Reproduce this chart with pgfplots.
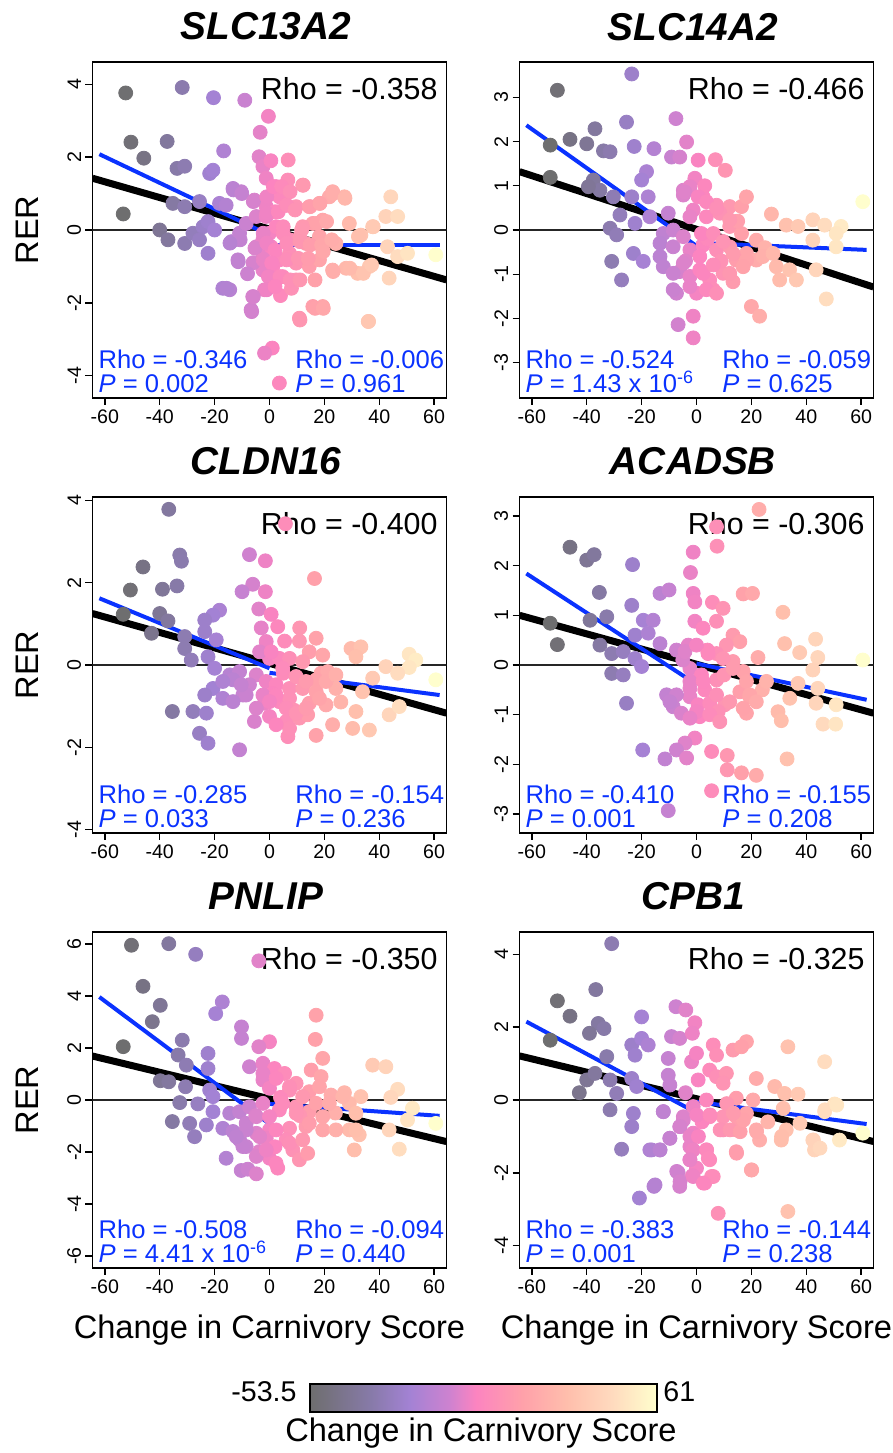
\documentclass[border=0pt]{standalone}
\usepackage{fontspec}
\setmainfont{Liberation Sans}
\usepackage{pgfplots}
\pgfplotsset{compat=1.18}

\definecolor{rblue}{RGB}{10,50,255}

\pgfplotsset{
  colormap={carn}{rgb255(0)=(110,110,110) rgb255(20)=(135,122,168) rgb255(33)=(163,130,212)
    rgb255(46)=(205,130,208) rgb255(55)=(252,132,192) rgb255(70)=(255,160,170)
    rgb255(85)=(255,190,172) rgb255(100)=(255,218,190) rgb255(115)=(255,255,205)},
  panel/.style={
    scale only axis, width=177pt, height=168pt,
    xmin=-64.5, xmax=64.5, xtick={-60,-40,-20,0,20,40,60},
    tick align=outside, xtick pos=bottom, ytick pos=left,
    major tick length=3.5pt,
    axis line style={line width=0.7pt},
    every tick/.append style={black, line width=0.7pt},
    tick label style={font=\fontsize{9.8}{11}\selectfont},
    yticklabel style={rotate=90, anchor=south, inner sep=2pt},
    xticklabel style={inner sep=2pt},
    /pgf/number format/assume math mode=true,
    colormap name=carn, point meta min=-53.5, point meta max=61,
    title style={at={(axis description cs:0.49,1)}, anchor=base, yshift=5pt,
      font=\fontsize{19.4}{22}\selectfont\bfseries\itshape},
    ylabel style={at={(axis description cs:-0.183,0.5)}, anchor=center,
      font=\fontsize{16.3}{18}\selectfont},
    xlabel style={at={(axis description cs:0.5,-0.185)}, anchor=center,
      font=\fontsize{16.3}{18}\selectfont},
  },
  pts/.style={scatter, only marks, mark=*, mark size=3.5pt, point meta=x,
    scatter/use mapped color={draw=mapped color, fill=mapped color}},
  fitall/.style={black, line width=3.5pt},
  fitpart/.style={rblue, line width=2pt},
  hzero/.style={black!85, line width=0.6pt},
}

\newcommand{\rhoall}[1]{%
  \node[anchor=north east, inner sep=0pt, font=\fontsize{15.2}{18}\selectfont]
    at (rel axis cs:0.976,0.955) {Rho = #1};}
\newcommand{\rhoparts}[4]{%
  \node[anchor=base west, inner sep=0pt, text=rblue, font=\fontsize{12.8}{15}\selectfont]
    at (rel axis cs:0.016,0.087) {Rho = #1};
  \node[anchor=base west, inner sep=0pt, text=rblue, font=\fontsize{12.8}{15}\selectfont]
    at (rel axis cs:0.016,0.017) {\textit{P} = #2};
  \node[anchor=base west, inner sep=0pt, text=rblue, font=\fontsize{12.8}{15}\selectfont]
    at (rel axis cs:0.572,0.087) {Rho = #3};
  \node[anchor=base west, inner sep=0pt, text=rblue, font=\fontsize{12.8}{15}\selectfont]
    at (rel axis cs:0.572,0.017) {\textit{P} = #4};}

\begin{document}
\begin{tikzpicture}
\path[use as bounding box] (0,0) rectangle (446.5pt,726.5pt);

% ---- SLC13A2
\begin{axis}[panel, at={(46.25pt,527.5pt)}, anchor=south west,
  ymin=-4.61, ymax=4.61, ytick={-4,-2,0,2,4}, title={SLC13A2}, ylabel={RER}]
\addplot[pts] coordinates {
(-52.4,3.76) (-31.8,3.91) (-20.4,3.63) (-9.0,3.56) (-0.4,3.12) (-3.4,2.68) (-50.5,2.41)
(-37.3,2.43) (-45.8,1.97) (-16.7,2.17) (-3.8,2.01) (6.8,1.92) (-33.7,1.69) (-30.9,1.75)
(-21.8,1.55) (-20.6,1.64) (-2.4,1.74) (-1.2,1.42) (6.7,1.37) (2.4,1.19) (12.1,1.23)
(23.0,1.05) (27.3,0.91) (-13.3,1.14) (-10.3,1.05) (-53.3,0.44) (-35.2,0.73) (-30.9,0.64)
(-25.5,0.78) (-18.2,0.73) (-15.8,0.68) (-5.5,0.82) (-1.2,0.64) (3.6,0.91) (6.1,0.68)
(9.7,0.64) (14.5,0.64) (18.2,0.73) (21.8,0.91) (44.2,0.91) (42.4,0.37) (46.7,0.37)
(37.6,0.09) (33.3,-0.14) (29.1,0.18) (19.4,0.27) (15.8,0.18) (12.1,0.09) (-40.0,0.0)
(-37.0,-0.27) (-30.9,-0.37) (-27.9,-0.09) (-24.2,0.09) (-22.4,0.23) (-20.0,0.0)
(-25.5,-0.27) (-22.4,-0.64) (-13.9,-0.32) (-10.9,-0.09) (-8.5,0.18) (-4.8,-0.46)
(-11.5,-0.82) (-2.4,-0.73) (0.6,-0.46) (3.6,-0.82) (1.2,-1.0) (7.3,-0.64) (9.7,-0.91)
(4.8,-1.28) (9.7,-1.37) (14.5,-1.0) (18.2,-0.82) (23.0,-1.10) (27.9,-1.05) (32.1,-1.19)
(36.4,-1.0) (43.0,-0.46) (46.7,-0.73) (50.3,-0.64) (60.6,-0.68) (43.6,-1.32)
(-17.0,-1.60) (-14.5,-1.64) (-6.1,-1.83) (-1.8,-1.64) (0,-1.28) (-2.4,-1.10)
(-6.7,-2.19) (15.8,-2.10) (19.4,-2.10) (10.9,-2.42) (36.1,-2.51) (1.0,-3.24)
(-1.8,-3.38) (3.6,-4.20) (0,-0.09) (-4.8,0.37) (-1.2,0.37) (2.4,0.09) (-2.4,-0.27)
(7.3,-0.27) (13.3,-0.37) (18.2,-0.18) (24.2,-0.37) (19.4,-0.55) (2.0,0.5) (5.0,-0.1)
(-6.0,-0.9) (4.0,-1.8) (8.0,-1.6) (11.0,-0.2) (-8.0,-1.2) (0.5,1.9)
(-13.2,1.10) (-10.1,1.00) (-5.9,0.78) (-1.0,0.91) (1.4,1.19) (4.4,1.19) (7.5,1.05)
(12.3,1.23) (-1.0,0.46) (3.2,0.50) (6.3,0.68) (9.3,0.55) (14.8,0.64) (18.4,0.73)
(23.2,1.00) (27.5,0.87) (17.2,0.18) (20.8,0.23) (11.7,0) (5.0,0.09) (-2.3,-0.09)
(-5.3,-0.50) (-1.0,-0.36) (2.0,-0.55) (6.3,-0.36) (11.1,-0.32) (14.8,-0.41) (19.0,-0.41)
(22.7,-0.27) (32.4,-0.18) (37.8,0.09) (-10.7,-0.27) (-14.4,-0.36) (-11.4,-0.87)
(-2.3,-0.82) (0.8,-0.91) (6.3,-0.82) (10.5,-0.78) (14.1,-0.78) (19.6,-0.59) (29.3,-1.05)
(34.2,-1.19) (37.2,-0.96) (-0.4,-1.28) (3.8,-1.28) (7.5,-1.37) (11.1,-1.37) (16.6,-1.37)
(23.2,-1.14) (-15.6,-1.60) (-5.9,-1.83) (-1.0,-1.64) (2.0,-1.55) (-6.5,-2.24)
(11.1,-2.47) (16.6,-2.15) (19.6,-2.15) (36.0,-2.51)
};
\addplot[hzero] coordinates {(-70,0) (70,0)};
\addplot[fitall] coordinates {(-64.5,1.42) (64.5,-1.37)};
\addplot[fitpart] coordinates {(-62,2.08) (0,-0.14)};
\addplot[fitpart] coordinates {(0,-0.41) (62,-0.41)};
\rhoall{-0.358}
\rhoparts{-0.346}{0.002}{-0.006}{0.961}
\end{axis}

% ---- SLC14A2
\begin{axis}[panel, at={(259.75pt,527.5pt)}, anchor=south west,
  ymin=-3.8, ymax=3.8, ytick={-3,-2,-1,0,1,2,3}, title={SLC14A2}]
\addplot[pts] coordinates {
(-50.7,3.16) (-23.6,3.53) (-25.5,2.44) (-7.5,2.52) (-46.1,2.05) (-37.0,2.29) (-40.0,1.95)
(-53.3,1.92) (-33.9,1.79) (-31.5,1.77) (-22.7,1.89) (-15.5,1.84) (-3.6,1.99) (-9.1,1.65)
(-6.1,1.65) (0.6,1.58) (6.9,1.59) (10.5,1.35) (-18.2,1.32) (-20.0,1.13) (-53.3,1.19)
(-37.6,1.13) (-35.2,0.90) (-39.4,0.98) (-30.3,0.75) (-23.6,0.75) (-17.6,0.75) (-4.8,0.90)
(-0.6,1.17) (-2.4,0.98) (-4.8,0.79) (2.4,0.75) (7.3,0.56) (12.1,0.53) (16.4,0.53)
(18.2,0.75) (27.3,0.36) (32.7,0.11) (37.0,0.08) (42.4,0.23) (46.7,0.11) (52.7,0.08)
(50.9,-0.08) (60.6,0.64) (-27.9,0.34) (-22.4,0.15) (-17.0,0.30) (-10.3,0.38) (-1.2,0.45)
(3.6,0.30) (8.5,0.38) (-31.5,0.04) (-29.1,-0.11) (-12.1,-0.08) (-8.5,0.0) (-13.3,-0.30)
(-8.5,-0.38) (-2.4,-0.45) (2.4,-0.34) (7.3,-0.45) (12.1,-0.38) (18.2,-0.53) (21.8,-0.68)
(29.1,-0.83) (33.9,-0.90) (36.4,-1.13) (30.3,-1.13) (43.6,-0.90) (50.9,-0.38) (42.4,-0.23)
(-23.0,-0.53) (-19.4,-0.71) (-13.3,-0.60) (-12.1,-0.83) (-30.9,-0.71) (-27.3,-1.13)
(-6.1,-0.94) (-2.4,-1.05) (1.2,-0.90) (4.8,-1.13) (9.7,-0.98) (13.3,-1.17) (6.1,-1.35)
(-7.3,-1.43) (0,-1.43) (20.0,-1.73) (23.0,-1.95) (47.3,-1.56) (-6.7,-2.14) (-1.2,-1.95)
(-1.2,-2.44) (1.2,-0.60) (-4.8,-0.15) (12.1,0.08) (16.4,-0.08) (21.8,-0.23) (14.5,-0.68)
(4.0,-0.2) (9.0,-0.7) (-4.0,-0.7) (3.0,1.0) (15.0,0.2) (25.0,-0.4)
(-4.2,0.86) (0.6,0.75) (3.6,0.64) (7.3,0.49) (12.1,0.23) (-2.4,0.30) (1.8,-0.08)
(6.1,-0.08) (9.7,-0.26) (13.3,-0.53) (18.2,-0.68) (24.2,-0.60) (27.9,-0.53) (-4.8,-0.75)
(-8.5,-0.98) (2.4,-0.98) (6.1,-0.79) (12.1,-0.98) (17.0,-0.83) (-2.4,-1.28) (-8.5,-1.35)
(3.6,-1.35) (7.3,-1.43)
};
\addplot[hzero] coordinates {(-70,0) (70,0)};
\addplot[fitall] coordinates {(-64.5,1.32) (64.5,-1.29)};
\addplot[fitpart] coordinates {(-62,2.37) (0,-0.36)};
\addplot[fitpart] coordinates {(0,-0.29) (62,-0.45)};
\rhoall{-0.466}
\rhoparts{-0.524}{1.43 x 10\textsuperscript{-6}}{-0.059}{0.625}
\end{axis}

% ---- CLDN16
\begin{axis}[panel, at={(46.25pt,310pt)}, anchor=south west,
  ymin=-4.08, ymax=4.08, ytick={-4,-2,0,2,4}, title={CLDN16}, ylabel={RER}]
\addplot[pts] coordinates {
(-36.7,3.78) (5.8,3.43) (-32.7,2.67) (-32.1,2.52) (-46.1,2.38) (-50.7,1.82) (-39.0,1.84)
(-33.7,1.92) (-7.3,2.68) (-1.5,2.53) (-6.1,1.96) (-10.0,1.78) (-1.5,1.78) (16.4,2.10)
(-18.2,1.33) (-20.6,1.21) (-23.6,1.09) (-3.9,1.36) (0.6,1.23) (3.0,0.93) (-53.3,1.23)
(-40.0,1.25) (-37.0,1.07) (-43.0,0.77) (-30.9,0.69) (-23.6,0.81) (-19.4,0.61) (-1.2,0.57)
(5.5,0.58) (10.9,0.58) (17.0,0.65) (14.5,0.32) (19.4,0.24) (29.7,0.40) (33.3,0.44)
(31.5,0.20) (50.9,0.26) (53.3,0.12) (50.9,-0.06) (42.4,-0.04) (46.7,-0.20) (37.6,-0.32)
(60.6,-0.36) (-30.9,0.40) (-28.5,0.12) (-22.4,0.20) (-20.0,-0.08) (-14.5,-0.24)
(-10.9,-0.16) (-13.3,-0.36) (-4.8,-0.24) (0,0.16) (3.6,0.16) (7.3,0.16) (12.1,0.08)
(18.8,-0.20) (21.2,-0.16) (17.0,-0.36) (24.2,-0.57) (33.9,-0.65) (-1.2,-0.40) (2.4,-0.48)
(7.3,-0.57) (12.1,-0.57) (-7.3,-0.48) (-9.7,-0.73) (-20.6,-0.57) (-23.6,-0.73)
(-17.0,-0.81) (-1.8,-0.93) (3.6,-0.89) (7.3,-0.81) (14.5,-0.93) (20.6,-0.97) (31.5,-1.13)
(43.6,-1.21) (47.3,-1.01) (-35.4,-1.13) (-27.9,-1.13) (-23.0,-1.17) (-5.5,-1.37)
(0,-1.25) (6.1,-1.37) (10.9,-1.29) (13.9,-1.21) (23.0,-1.45) (30.3,-1.54) (36.4,-1.58)
(-25.5,-1.66) (-22.4,-1.90) (6.7,-1.74) (17.0,-1.71) (-10.9,-2.06) (5.0,-0.2)
(9.0,-1.1) (1.0,-0.7) (-3.0,0.9) (11.0,0.9) (26.0,-0.9)
(-3.6,0.32) (0.6,0.32) (4.8,-0.08) (9.7,-0.28) (13.3,-0.40) (17.0,-0.65) (-2.4,-0.73)
(2.4,-0.73) (6.1,-1.05) (9.7,-1.17) (13.3,-1.05) (18.2,-0.81) (20.6,-0.40) (24.2,-0.24)
(-4.8,-1.05) (0,-0.89) (7.3,-1.54) (2.4,-1.45) (-8.5,-0.73) (-13.3,-0.89) (-17.0,-0.40)
(-10.3,-0.48)
};
\addplot[hzero] coordinates {(-70,0) (70,0)};
\addplot[fitall] coordinates {(-64.5,1.25) (64.5,-1.17)};
\addplot[fitpart] coordinates {(-62,1.62) (0,-0.08)};
\addplot[fitpart] coordinates {(0,-0.19) (62,-0.73)};
\rhoall{-0.400}
\rhoparts{-0.285}{0.033}{-0.154}{0.236}
\end{axis}

% ---- ACADSB
\begin{axis}[panel, at={(259.75pt,310pt)}, anchor=south west,
  ymin=-3.38, ymax=3.38, ytick={-3,-2,-1,0,1,2,3}, title={ACADSB}]
\addplot[pts] coordinates {
(22.8,3.13) (7.3,2.78) (7.5,2.39) (-1.2,2.27) (-46.1,2.37) (-40.0,2.11) (-37.3,2.22)
(-23.3,2.02) (-2.2,1.86) (-35.4,1.46) (-13.3,1.44) (-10.0,1.51) (-1.2,1.44) (-0.6,1.27)
(5.8,1.26) (9.7,1.14) (17.0,1.43) (20.4,1.44) (31.5,1.06) (-23.6,1.20) (-53.3,0.84)
(-50.7,0.41) (-38.8,0.90) (-32.7,0.97) (-19.4,0.90) (-15.8,0.90) (-0.6,0.88) (7.3,0.88)
(2.4,0.74) (13.3,0.60) (15.8,0.47) (10.9,0.40) (32.1,0.43) (37.6,0.25) (43.4,0.52)
(44.2,0.15) (60.6,0.10) (22.4,0.15) (-35.2,0.40) (-30.9,0.23) (-26.7,0.27) (-22.4,0.60)
(-17.6,0.64) (-13.3,0.43) (-7.3,0.30) (-3.0,0.40) (7.3,0.23) (-22.4,0.13) (-20.0,-0.03)
(-30.9,-0.17) (-26.7,-0.20) (-2.4,-0.07) (1.8,-0.20) (7.3,-0.30) (13.3,0.07) (17.0,-0.13)
(42.4,-0.10) (-2.4,-0.33) (-25.5,-0.77) (-10.9,-0.60) (-8.5,-0.84) (-5.5,-0.97)
(-2.4,-0.64) (0.6,-0.80) (4.8,-0.77) (10.3,-0.80) (7.9,-0.94) (15.8,-0.54) (19.4,-0.64)
(18.2,-0.97) (1.2,-1.04) (37.0,-0.37) (34.0,-0.67) (44.2,-0.47) (43.6,-0.77) (50.9,-0.80)
(29.7,-0.94) (30.9,-1.12) (46.1,-1.19) (50.7,-1.19) (-0.6,-1.47) (-4.2,-1.57)
(-7.3,-1.71) (-3.6,-1.87) (-19.6,-1.71) (-11.5,-1.89) (5.5,-1.74) (11.2,-1.82)
(11.2,-2.11) (16.4,-2.17) (21.8,-2.22) (33.0,-1.89) (5.5,-2.53) (-10.3,-2.93)
(3.0,-0.5) (10.0,-0.2) (-5.0,0.1) (4.0,0.3) (24.0,-0.5)
(-4.2,0.27) (0,0.40) (4.2,0.23) (9.7,0.13) (13.3,-0.07) (18.2,-0.33) (-2.4,-0.47)
(2.4,-0.33) (7.3,-0.60) (12.1,-0.74) (17.0,-0.87) (0,-0.94) (4.8,-1.00) (8.5,-1.14)
(-2.4,-1.07) (-7.3,-0.60) (-9.7,-0.74) (19.4,-0.60) (21.8,-0.74) (25.5,-0.33)
};
\addplot[hzero] coordinates {(-70,0) (70,0)};
\addplot[fitall] coordinates {(-64.5,1.00) (64.5,-0.97)};
\addplot[fitpart] coordinates {(-62,1.84) (0,-0.39)};
\addplot[fitpart] coordinates {(0,0.03) (62,-0.70)};
\rhoall{-0.306}
\rhoparts{-0.410}{0.001}{-0.155}{0.208}
\end{axis}

% ---- PNLIP
\begin{axis}[panel, at={(46.25pt,92.5pt)}, anchor=south west,
  ymin=-6.46, ymax=6.46, ytick={-6,-4,-2,0,2,4,6}, title={PNLIP}, ylabel={RER},
  xlabel={Change in Carnivory Score}]
\addplot[pts] coordinates {
(-50.3,5.95) (-36.7,6.01) (-26.9,5.60) (-3.9,5.35) (-46.1,4.37) (-39.8,3.64) (-42.7,3.01)
(-17.2,3.77) (-19.6,3.32) (-53.3,2.05) (-31.8,2.30) (-10.2,2.81) (-10.2,2.37) (0,2.24)
(-3.9,2.05) (17.0,3.26) (16.7,2.33) (19.4,1.60) (-22.4,1.79) (-33.3,1.73) (-30.3,1.34)
(-22.4,1.21) (-7.3,1.28) (-2.4,1.41) (1.8,1.21) (5.5,1.02) (15.2,1.15) (18.8,0.90)
(37.6,1.34) (42.4,1.28) (-39.8,0.74) (-36.7,0.70) (-30.6,0.51) (-21.8,0.38) (-20.6,0.13)
(-2.4,0.77) (0,0.45) (9.7,0.64) (14.5,0.32) (18.2,0.51) (27.3,0.28) (33.3,0.13)
(46.7,0.41) (44.2,0.10) (22.4,0.19) (7.3,0.38) (-32.7,-0.10) (-26.1,-0.15) (-20.6,-0.45)
(-14.5,-0.51) (-10.9,-0.45) (-7.3,-0.26) (-2.4,-0.13) (3.6,-0.38) (9.7,-0.26) (14.5,-0.45)
(29.1,-0.13) (31.5,-0.51) (52.1,-0.32) (50.3,-0.77) (60.6,-0.90) (-35.4,-0.83)
(-29.1,-0.90) (-23.0,-0.96) (-27.3,-1.41) (-17.0,-1.09) (-13.3,-1.21) (-8.5,-0.90)
(-4.8,-1.28) (0,-1.15) (-1.2,-1.47) (7.3,-1.09) (13.3,-1.02) (19.4,-1.15) (29.1,-1.15)
(32.7,-1.34) (43.6,-1.15) (-10.9,-1.53) (-8.5,-1.79) (-3.6,-1.98) (0,-2.24) (6.1,-1.53)
(8.5,-1.92) (10.9,-2.30) (13.9,-2.05) (30.9,-1.92) (47.3,-1.89) (-15.8,-2.24)
(-10.3,-2.71) (-7.9,-2.66) (-4.8,-2.84) (3.0,-2.62) (4.0,0.1) (11.0,-0.6) (-5.0,-0.6)
(2.0,-1.8) (24.0,-0.5)
(-2.4,1.02) (2.4,0.83) (7.3,0.51) (12.1,0.13) (17.0,-0.13) (4.8,-0.13) (9.7,-0.51)
(14.5,-0.90) (19.4,-0.64) (-4.8,-0.64) (0,-0.64) (-8.5,-1.15) (-3.6,-1.41) (2.4,-1.15)
(7.3,-1.66) (12.1,-1.53) (-4.8,-2.17) (-1.2,-1.92) (2.4,-2.43) (-9.7,-1.79) (-12.1,-1.41)
(21.8,-0.13) (26.7,0.13) (24.2,-1.15) (31.5,-1.15)
};
\addplot[hzero] coordinates {(-70,0) (70,0)};
\addplot[fitall] coordinates {(-64.5,1.69) (64.5,-1.60)};
\addplot[fitpart] coordinates {(-62,3.96) (0,-0.92)};
\addplot[fitpart] coordinates {(0,-0.15) (62,-0.61)};
\rhoall{-0.350}
\rhoparts{-0.508}{4.41 x 10\textsuperscript{-6}}{-0.094}{0.440}
\end{axis}

% ---- CPB1
\begin{axis}[panel, at={(259.75pt,92.5pt)}, anchor=south west,
  ymin=-4.61, ymax=4.61, ytick={-4,-2,0,2,4}, title={CPB1},
  xlabel={Change in Carnivory Score}]
\addplot[pts] coordinates {
(-30.9,4.29) (-36.7,3.03) (-50.7,2.72) (-46.1,2.30) (-35.8,2.10) (-33.7,1.96) (-39.0,1.83)
(-53.3,1.64) (-20.0,2.28) (-7.5,2.56) (-3.9,2.47) (-0.6,2.12) (-9.1,1.74) (-6.1,1.69)
(-1.5,1.83) (-23.6,1.51) (-20.0,1.69) (-17.6,1.51) (-22.4,1.23) (6.1,1.51) (7.3,1.23)
(13.3,1.37) (18.2,1.60) (16.4,1.46) (33.3,1.46) (46.7,1.05) (-32.7,1.19) (-1.8,1.05)
(0,1.28) (-10.3,1.14) (-40.0,0.55) (-37.0,0.73) (-42.7,0.20) (-31.5,0.55) (-29.1,0.18)
(-23.6,0.59) (-21.8,0.37) (-10.3,0.68) (-9.7,0.41) (0.6,0.55) (4.8,0.82) (7.3,0.64)
(10.9,0.73) (9.7,0.46) (21.8,0.59) (28.5,0.37) (32.1,0.18) (37.0,0.16) (14.5,0.05)
(20.6,0.0) (50.3,-0.11) (46.7,-0.32) (-31.5,-0.27) (-23.0,-0.37) (-23.6,-0.73)
(-12.1,-0.32) (-4.8,-0.46) (-1.2,-0.18) (3.6,0.0) (9.7,-0.46) (14.5,-0.46) (18.2,-0.37)
(4.8,-0.46) (-6.1,-0.73) (-1.2,-0.91) (9.7,-0.82) (14.5,-0.82) (21.8,-0.82) (23.0,-1.10)
(30.9,-1.10) (32.7,-0.82) (42.4,-1.10) (52.1,-1.10) (60.6,-0.91) (43.0,-1.37)
(-27.3,-1.35) (-17.0,-1.37) (-13.3,-1.37) (-9.7,-1.05) (-2.4,-1.28) (3.6,-1.37)
(-2.4,-1.64) (4.8,-1.64) (14.5,-1.42) (0,-1.87) (-6.7,-1.99) (-1.5,-2.08) (6.1,-2.10)
(3.0,-2.28) (20.0,-1.92) (-15.5,-2.37) (-20.8,-2.69) (7.9,-3.11) (33.3,-3.06)
(-6.1,-2.37) (2.0,-0.6) (11.0,-0.1) (26.0,-0.6) (-4.0,0.2)
(-12.1,-0.32) (-4.8,-0.55) (0.1,-0.41) (4.9,-0.41) (-6.0,-0.73) (-9.7,-1.05) (-2.4,-1.0)
(0.7,-1.0) (-16.3,-1.37) (-13.3,-1.37) (-1.2,-1.37) (3.7,-1.37) (-2.4,-1.64) (4.3,-1.60)
(14.6,-1.46) (20.1,-1.92) (-7.2,-1.96) (-6.0,-2.24) (-1.2,-2.10) (5.5,-2.10) (2.5,-2.28)
(-15.1,-2.33) (8.6,-0.82) (12.2,-0.82) (15.9,-0.87) (21.9,-0.87) (31.0,-1.0) (31.6,-0.23)
(37.7,-0.64) (42.6,-1.10) (45.0,-1.32) (46.8,-0.27) (51.1,-0.14) (17.1,-0.55) (13.4,-0.36)
};
\addplot[hzero] coordinates {(-70,0) (70,0)};
\addplot[fitall] coordinates {(-64.5,1.21) (64.5,-1.14)};
\addplot[fitpart] coordinates {(-62,2.15) (0,-0.35)};
\addplot[fitpart] coordinates {(0,-0.05) (62,-0.66)};
\rhoall{-0.325}
\rhoparts{-0.383}{0.001}{-0.144}{0.238}
\end{axis}

% ---- colour key
\begin{axis}[at={(155pt,29pt)}, anchor=south west, scale only axis,
  width=173.5pt, height=14pt, hide axis, xmin=0, xmax=1, ymin=0, ymax=1,
  colormap name=carn, point meta min=-53.5, point meta max=61,
  colorbar horizontal,
  colorbar style={at={(parent axis.south west)}, anchor=south west,
    scale only axis, width=173.5pt, height=14pt, xtick=\empty, ytick=\empty,
    axis line style={line width=1pt}}]
\addplot[draw=none] coordinates {(0,0) (1,1)};
\end{axis}
\node[anchor=base east, inner sep=0pt, font=\fontsize{14.3}{16}\selectfont] at (148.5pt,25.5pt) {-53.5};
\node[anchor=base west, inner sep=0pt, font=\fontsize{14.3}{16}\selectfont] at (331.5pt,25.5pt) {61};
\node[anchor=base, inner sep=0pt, font=\fontsize{16.3}{18}\selectfont] at (240.5pt,5.5pt) {Change in Carnivory Score};
\end{tikzpicture}
\end{document}
